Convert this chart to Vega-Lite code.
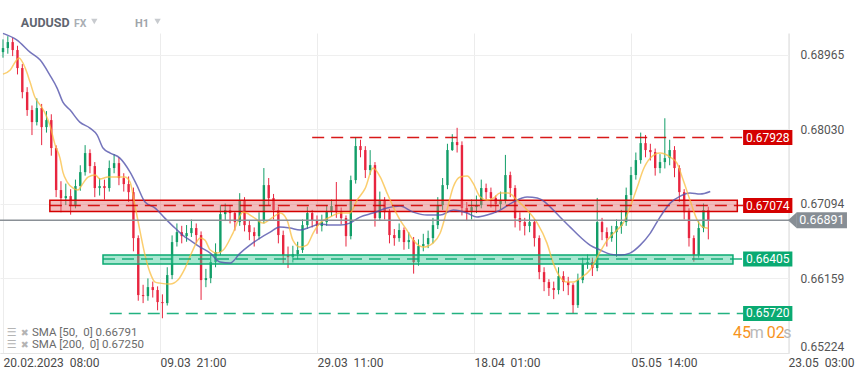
{
"$schema": "https://vega.github.io/schema/vega-lite/v6.json",
"width": 789, "height": 320,
"autosize": {"type": "none"},
"padding": {"left": 0, "top": 33, "right": 70, "bottom": 25},
"config": {"view": {"stroke": null}, "font": "Roboto", "text": {"font": "Roboto"}},
"datasets": {
"candles": [
{"t":0,"o":0.69,"h":0.6916,"l":0.6893,"c":0.69051},
{"t":10,"o":0.69051,"h":0.692,"l":0.6898,"c":0.69126},
{"t":20,"o":0.69126,"h":0.6918,"l":0.6895,"c":0.69026},
{"t":30,"o":0.69026,"h":0.6908,"l":0.6872,"c":0.688},
{"t":40,"o":0.688,"h":0.6885,"l":0.6842,"c":0.68498},
{"t":50,"o":0.68498,"h":0.6856,"l":0.682,"c":0.68273},
{"t":60,"o":0.68273,"h":0.6833,"l":0.67959,"c":0.68122},
{"t":70,"o":0.68122,"h":0.6842,"l":0.6808,"c":0.68298},
{"t":80,"o":0.68298,"h":0.6835,"l":0.67833,"c":0.68059},
{"t":90,"o":0.68059,"h":0.6826,"l":0.6799,"c":0.68147},
{"t":100,"o":0.68147,"h":0.6822,"l":0.677,"c":0.67796},
{"t":110,"o":0.67796,"h":0.6783,"l":0.6718,"c":0.67269},
{"t":120,"o":0.67269,"h":0.6738,"l":0.6699,"c":0.67168},
{"t":130,"o":0.67168,"h":0.6735,"l":0.6708,"c":0.67193},
{"t":140,"o":0.67193,"h":0.6728,"l":0.6696,"c":0.6708},
{"t":150,"o":0.6708,"h":0.674,"l":0.6704,"c":0.67319},
{"t":160,"o":0.67319,"h":0.6758,"l":0.6726,"c":0.67494},
{"t":170,"o":0.67494,"h":0.67833,"l":0.6745,"c":0.67733},
{"t":180,"o":0.67733,"h":0.6778,"l":0.6748,"c":0.6757},
{"t":190,"o":0.6757,"h":0.6762,"l":0.6718,"c":0.67294},
{"t":200,"o":0.67294,"h":0.6742,"l":0.672,"c":0.67319},
{"t":210,"o":0.67319,"h":0.674,"l":0.6715,"c":0.67294},
{"t":220,"o":0.67294,"h":0.6764,"l":0.6725,"c":0.67545},
{"t":230,"o":0.67545,"h":0.6772,"l":0.6748,"c":0.67607},
{"t":240,"o":0.67607,"h":0.6768,"l":0.6733,"c":0.67419},
{"t":250,"o":0.67419,"h":0.6748,"l":0.6725,"c":0.67344},
{"t":260,"o":0.67344,"h":0.6744,"l":0.6712,"c":0.67243},
{"t":270,"o":0.67243,"h":0.673,"l":0.665,"c":0.66666},
{"t":280,"o":0.66666,"h":0.667,"l":0.6588,"c":0.65951},
{"t":290,"o":0.65951,"h":0.6608,"l":0.6585,"c":0.65938},
{"t":300,"o":0.65938,"h":0.6616,"l":0.6588,"c":0.66051},
{"t":310,"o":0.66051,"h":0.6612,"l":0.6592,"c":0.66014},
{"t":320,"o":0.66014,"h":0.6606,"l":0.6576,"c":0.65863},
{"t":330,"o":0.65863,"h":0.6596,"l":0.6566,"c":0.6585},
{"t":340,"o":0.6585,"h":0.663,"l":0.6582,"c":0.66202},
{"t":350,"o":0.66202,"h":0.667,"l":0.6615,"c":0.66616},
{"t":360,"o":0.66616,"h":0.6685,"l":0.6656,"c":0.66741},
{"t":370,"o":0.66741,"h":0.6682,"l":0.666,"c":0.66691},
{"t":380,"o":0.66691,"h":0.6683,"l":0.6662,"c":0.66729},
{"t":390,"o":0.66729,"h":0.669,"l":0.6668,"c":0.66792},
{"t":400,"o":0.66792,"h":0.6685,"l":0.666,"c":0.66704},
{"t":410,"o":0.66704,"h":0.6675,"l":0.6589,"c":0.66139},
{"t":420,"o":0.66139,"h":0.6628,"l":0.6605,"c":0.66164},
{"t":430,"o":0.66164,"h":0.6645,"l":0.661,"c":0.66365},
{"t":440,"o":0.66365,"h":0.666,"l":0.663,"c":0.6649},
{"t":450,"o":0.6649,"h":0.6708,"l":0.6645,"c":0.66967},
{"t":460,"o":0.66967,"h":0.671,"l":0.6688,"c":0.67018},
{"t":470,"o":0.67018,"h":0.6708,"l":0.6685,"c":0.6698},
{"t":480,"o":0.6698,"h":0.67,"l":0.6676,"c":0.66867},
{"t":490,"o":0.66867,"h":0.6723,"l":0.6682,"c":0.67143},
{"t":500,"o":0.67143,"h":0.6718,"l":0.6675,"c":0.66829},
{"t":510,"o":0.66829,"h":0.6688,"l":0.6664,"c":0.66741},
{"t":520,"o":0.66741,"h":0.668,"l":0.6656,"c":0.66691},
{"t":530,"o":0.66691,"h":0.6699,"l":0.6665,"c":0.66892},
{"t":540,"o":0.66892,"h":0.67545,"l":0.6685,"c":0.67331},
{"t":550,"o":0.67331,"h":0.6742,"l":0.6708,"c":0.67168},
{"t":560,"o":0.67168,"h":0.6722,"l":0.669,"c":0.67018},
{"t":570,"o":0.67018,"h":0.6706,"l":0.666,"c":0.66704},
{"t":580,"o":0.66704,"h":0.6676,"l":0.6635,"c":0.66453},
{"t":590,"o":0.66453,"h":0.6656,"l":0.6629,"c":0.66428},
{"t":600,"o":0.66428,"h":0.6657,"l":0.6636,"c":0.66465},
{"t":610,"o":0.66465,"h":0.6662,"l":0.664,"c":0.66516},
{"t":620,"o":0.66516,"h":0.669,"l":0.6648,"c":0.66829},
{"t":630,"o":0.66829,"h":0.6706,"l":0.6678,"c":0.6698},
{"t":640,"o":0.6698,"h":0.6702,"l":0.668,"c":0.66892},
{"t":650,"o":0.66892,"h":0.6695,"l":0.6672,"c":0.66817},
{"t":660,"o":0.66817,"h":0.6696,"l":0.6675,"c":0.66867},
{"t":670,"o":0.66867,"h":0.6708,"l":0.6682,"c":0.66992},
{"t":680,"o":0.66992,"h":0.6715,"l":0.6694,"c":0.67068},
{"t":690,"o":0.67068,"h":0.6737,"l":0.6692,"c":0.66992},
{"t":700,"o":0.66992,"h":0.6705,"l":0.6684,"c":0.66917},
{"t":710,"o":0.66917,"h":0.6695,"l":0.6656,"c":0.66691},
{"t":720,"o":0.66691,"h":0.6745,"l":0.6665,"c":0.67394},
{"t":730,"o":0.67394,"h":0.67928,"l":0.6735,"c":0.67821},
{"t":740,"o":0.67821,"h":0.679,"l":0.6768,"c":0.67771},
{"t":750,"o":0.67771,"h":0.6782,"l":0.6742,"c":0.6752},
{"t":760,"o":0.6752,"h":0.6777,"l":0.6746,"c":0.67582},
{"t":770,"o":0.67582,"h":0.6762,"l":0.6681,"c":0.66917},
{"t":780,"o":0.66917,"h":0.6725,"l":0.6688,"c":0.67143},
{"t":790,"o":0.67143,"h":0.6718,"l":0.669,"c":0.66992},
{"t":800,"o":0.66992,"h":0.6703,"l":0.666,"c":0.66704},
{"t":810,"o":0.66704,"h":0.6678,"l":0.6657,"c":0.66666},
{"t":820,"o":0.66666,"h":0.6685,"l":0.6662,"c":0.66767},
{"t":830,"o":0.66767,"h":0.668,"l":0.6652,"c":0.66616},
{"t":840,"o":0.66616,"h":0.6674,"l":0.6653,"c":0.66641},
{"t":850,"o":0.66641,"h":0.6668,"l":0.6622,"c":0.66365},
{"t":860,"o":0.66365,"h":0.6665,"l":0.6632,"c":0.66566},
{"t":870,"o":0.66566,"h":0.6672,"l":0.665,"c":0.66591},
{"t":880,"o":0.66591,"h":0.6676,"l":0.6654,"c":0.66666},
{"t":890,"o":0.66666,"h":0.6692,"l":0.666,"c":0.66829},
{"t":900,"o":0.66829,"h":0.6718,"l":0.6678,"c":0.6708},
{"t":910,"o":0.6708,"h":0.6742,"l":0.6702,"c":0.67331},
{"t":920,"o":0.67331,"h":0.6785,"l":0.6728,"c":0.67771},
{"t":930,"o":0.67771,"h":0.6797,"l":0.6776,"c":0.67871},
{"t":940,"o":0.67871,"h":0.6805,"l":0.6774,"c":0.67833},
{"t":950,"o":0.67833,"h":0.6788,"l":0.6695,"c":0.67043},
{"t":960,"o":0.67043,"h":0.6712,"l":0.6688,"c":0.66992},
{"t":970,"o":0.66992,"h":0.6715,"l":0.669,"c":0.67055},
{"t":980,"o":0.67055,"h":0.672,"l":0.6698,"c":0.6708},
{"t":990,"o":0.6708,"h":0.674,"l":0.6704,"c":0.67294},
{"t":1000,"o":0.67294,"h":0.6735,"l":0.6715,"c":0.67243},
{"t":1010,"o":0.67243,"h":0.673,"l":0.6705,"c":0.67168},
{"t":1020,"o":0.67168,"h":0.672,"l":0.6698,"c":0.67093},
{"t":1030,"o":0.67093,"h":0.6725,"l":0.6703,"c":0.67143},
{"t":1040,"o":0.67143,"h":0.6771,"l":0.671,"c":0.67457},
{"t":1050,"o":0.67457,"h":0.675,"l":0.6718,"c":0.67294},
{"t":1060,"o":0.67294,"h":0.6733,"l":0.668,"c":0.66917},
{"t":1070,"o":0.66917,"h":0.6699,"l":0.6676,"c":0.66867},
{"t":1080,"o":0.66867,"h":0.6692,"l":0.667,"c":0.66817},
{"t":1090,"o":0.66817,"h":0.6698,"l":0.6674,"c":0.66867},
{"t":1100,"o":0.66867,"h":0.669,"l":0.6656,"c":0.66666},
{"t":1110,"o":0.66666,"h":0.667,"l":0.6615,"c":0.66239},
{"t":1120,"o":0.66239,"h":0.663,"l":0.66,"c":0.66114},
{"t":1130,"o":0.66114,"h":0.6615,"l":0.6594,"c":0.66039},
{"t":1140,"o":0.66039,"h":0.6612,"l":0.659,"c":0.66014},
{"t":1150,"o":0.66014,"h":0.663,"l":0.6596,"c":0.66189},
{"t":1160,"o":0.66189,"h":0.6625,"l":0.66,"c":0.66114},
{"t":1170,"o":0.66114,"h":0.6618,"l":0.6595,"c":0.66076},
{"t":1180,"o":0.66076,"h":0.661,"l":0.6572,"c":0.65825},
{"t":1190,"o":0.65825,"h":0.6622,"l":0.6579,"c":0.66139},
{"t":1200,"o":0.66139,"h":0.6642,"l":0.661,"c":0.6634},
{"t":1210,"o":0.6634,"h":0.6646,"l":0.6628,"c":0.66365},
{"t":1220,"o":0.66365,"h":0.6642,"l":0.6619,"c":0.6629},
{"t":1230,"o":0.6629,"h":0.6717,"l":0.6625,"c":0.66867},
{"t":1240,"o":0.66867,"h":0.6692,"l":0.6664,"c":0.66741},
{"t":1250,"o":0.66741,"h":0.668,"l":0.6656,"c":0.66666},
{"t":1260,"o":0.66666,"h":0.6682,"l":0.6662,"c":0.66741},
{"t":1270,"o":0.66741,"h":0.669,"l":0.6643,"c":0.66817},
{"t":1280,"o":0.66817,"h":0.6702,"l":0.6672,"c":0.66867},
{"t":1290,"o":0.66867,"h":0.673,"l":0.6682,"c":0.67206},
{"t":1300,"o":0.67206,"h":0.6756,"l":0.6715,"c":0.67457},
{"t":1310,"o":0.67457,"h":0.6774,"l":0.674,"c":0.67645},
{"t":1320,"o":0.67645,"h":0.6799,"l":0.676,"c":0.67858},
{"t":1330,"o":0.67858,"h":0.6796,"l":0.6768,"c":0.67771},
{"t":1340,"o":0.67771,"h":0.6785,"l":0.6764,"c":0.67745},
{"t":1350,"o":0.67745,"h":0.6779,"l":0.6745,"c":0.67545},
{"t":1360,"o":0.67545,"h":0.6772,"l":0.6748,"c":0.6762},
{"t":1370,"o":0.6762,"h":0.6817,"l":0.6754,"c":0.6767},
{"t":1380,"o":0.6767,"h":0.679,"l":0.6758,"c":0.67771},
{"t":1390,"o":0.67771,"h":0.6782,"l":0.6743,"c":0.67545},
{"t":1400,"o":0.67545,"h":0.6758,"l":0.6712,"c":0.67243},
{"t":1410,"o":0.67243,"h":0.6728,"l":0.669,"c":0.66992},
{"t":1420,"o":0.66992,"h":0.6704,"l":0.6656,"c":0.66666},
{"t":1430,"o":0.66666,"h":0.667,"l":0.6637,"c":0.66453},
{"t":1440,"o":0.66453,"h":0.6688,"l":0.6642,"c":0.66792},
{"t":1450,"o":0.66792,"h":0.671,"l":0.6674,"c":0.67018},
{"t":1460,"o":0.67018,"h":0.6706,"l":0.6665,"c":0.66891}
],
"sma50": [
{"t":0,"v":0.68724},{"t":15,"v":0.68775},{"t":25,"v":0.68875},{"t":33,"v":0.68925},{"t":46,"v":0.688},{"t":56,"v":0.68624},{"t":66,"v":0.68436},{"t":77,"v":0.68335},{"t":87,"v":0.68235},{"t":97,"v":0.68084},{"t":108,"v":0.67833},{"t":118,"v":0.6767},{"t":124,"v":0.67494},{"t":133,"v":0.67369},{"t":145,"v":0.67294},{"t":155,"v":0.67269},{"t":166,"v":0.67356},{"t":176,"v":0.67432},{"t":191,"v":0.67457},{"t":201,"v":0.67407},{"t":217,"v":0.67432},{"t":252,"v":0.67432},{"t":263,"v":0.67369},{"t":273,"v":0.6708},{"t":284,"v":0.66741},{"t":294,"v":0.66453},{"t":304,"v":0.66239},{"t":315,"v":0.66114},{"t":325,"v":0.66101},{"t":346,"v":0.66089},{"t":362,"v":0.66139},{"t":377,"v":0.6629},{"t":393,"v":0.66516},{"t":408,"v":0.66666},{"t":418,"v":0.66641},{"t":429,"v":0.66516},{"t":443,"v":0.66478},{"t":456,"v":0.66516},{"t":476,"v":0.66729},{"t":497,"v":0.66992},{"t":518,"v":0.6693},{"t":538,"v":0.66854},{"t":559,"v":0.6693},{"t":574,"v":0.6698},{"t":588,"v":0.66892},{"t":600,"v":0.66641},{"t":615,"v":0.66553},{"t":629,"v":0.66578},{"t":642,"v":0.66729},{"t":656,"v":0.66854},{"t":677,"v":0.6693},{"t":698,"v":0.6698},{"t":718,"v":0.6698},{"t":733,"v":0.67143},{"t":750,"v":0.67294},{"t":766,"v":0.67545},{"t":781,"v":0.67432},{"t":795,"v":0.67231},{"t":808,"v":0.67055},{"t":822,"v":0.66892},{"t":836,"v":0.66767},{"t":849,"v":0.66641},{"t":870,"v":0.66553},{"t":890,"v":0.66603},{"t":905,"v":0.66729},{"t":919,"v":0.67018},{"t":932,"v":0.67306},{"t":946,"v":0.67432},{"t":961,"v":0.67444},{"t":973,"v":0.67356},{"t":988,"v":0.67181},{"t":1002,"v":0.67143},{"t":1015,"v":0.67168},{"t":1029,"v":0.67231},{"t":1046,"v":0.67231},{"t":1064,"v":0.67143},{"t":1085,"v":0.67018},{"t":1106,"v":0.66854},{"t":1126,"v":0.66603},{"t":1139,"v":0.66352},{"t":1153,"v":0.66177},{"t":1168,"v":0.66114},{"t":1180,"v":0.66114},{"t":1195,"v":0.66164},{"t":1215,"v":0.66265},{"t":1230,"v":0.66428},{"t":1251,"v":0.66641},{"t":1271,"v":0.66767},{"t":1284,"v":0.66854},{"t":1298,"v":0.67055},{"t":1313,"v":0.67306},{"t":1325,"v":0.6752},{"t":1340,"v":0.6767},{"t":1360,"v":0.67733},{"t":1381,"v":0.67683},{"t":1395,"v":0.67607},{"t":1408,"v":0.67394},{"t":1422,"v":0.67143},{"t":1437,"v":0.66892},{"t":1449,"v":0.66804},{"t":1460,"v":0.66791}
],
"sma200": [
{"t":0,"v":0.69235},{"t":29,"v":0.69151},{"t":56,"v":0.69},{"t":77,"v":0.689},{"t":97,"v":0.68712},{"t":112,"v":0.68549},{"t":124,"v":0.68373},{"t":139,"v":0.68273},{"t":159,"v":0.68122},{"t":180,"v":0.68047},{"t":195,"v":0.67959},{"t":207,"v":0.67796},{"t":222,"v":0.67733},{"t":242,"v":0.6767},{"t":263,"v":0.67494},{"t":277,"v":0.67331},{"t":294,"v":0.67118},{"t":315,"v":0.67043},{"t":335,"v":0.66917},{"t":356,"v":0.66792},{"t":377,"v":0.66679},{"t":387,"v":0.66641},{"t":408,"v":0.66553},{"t":429,"v":0.66478},{"t":449,"v":0.66365},{"t":470,"v":0.66352},{"t":491,"v":0.66478},{"t":511,"v":0.66578},{"t":532,"v":0.66666},{"t":553,"v":0.66741},{"t":573,"v":0.66804},{"t":594,"v":0.66792},{"t":615,"v":0.66767},{"t":636,"v":0.66804},{"t":656,"v":0.66842},{"t":677,"v":0.66829},{"t":698,"v":0.66829},{"t":718,"v":0.66854},{"t":739,"v":0.6693},{"t":766,"v":0.6698},{"t":795,"v":0.67043},{"t":822,"v":0.67068},{"t":849,"v":0.66992},{"t":878,"v":0.66955},{"t":905,"v":0.66955},{"t":932,"v":0.67018},{"t":961,"v":0.6698},{"t":981,"v":0.6693},{"t":1002,"v":0.66955},{"t":1029,"v":0.67018},{"t":1056,"v":0.67118},{"t":1085,"v":0.67181},{"t":1106,"v":0.67168},{"t":1122,"v":0.67118},{"t":1133,"v":0.67055},{"t":1153,"v":0.6693},{"t":1174,"v":0.66804},{"t":1195,"v":0.66679},{"t":1215,"v":0.66578},{"t":1236,"v":0.66516},{"t":1257,"v":0.66465},{"t":1277,"v":0.66453},{"t":1298,"v":0.66478},{"t":1319,"v":0.66578},{"t":1340,"v":0.66729},{"t":1360,"v":0.6693},{"t":1381,"v":0.67105},{"t":1402,"v":0.67193},{"t":1422,"v":0.67231},{"t":1443,"v":0.67218},{"t":1464,"v":0.6725}
],
"zones": [
{"lo":0.67,"hi":0.6714,"from":97,"to":1520,"kind":"res"},
{"lo":0.6634,"hi":0.66453,"from":207,"to":1511,"kind":"sup"}
],
"levels": [
{"lvl":0.67928,"from":640,"to":1532,"kind":"res"},
{"lvl":0.67074,"from":97,"to":1532,"kind":"res"},
{"lvl":0.66405,"from":207,"to":1532,"kind":"sup"},
{"lvl":0.6572,"from":221,"to":1532,"kind":"sup"}
],
"last": [{"p":0.66891}]
},
"layer": [
{
"data": {"name": "candles"},
"mark": {"type": "rule", "strokeWidth": 1},
"encoding": {
"x": {"field": "t", "type": "quantitative",
"scale": {"domain": [-6.2, 1627], "nice": false, "zero": false},
"axis": {"values": [0, 325, 650, 975, 1300, 1625],
"labelExpr": "datum.value==0?'20.02.2023 \u00a008:00':datum.value==325?'09.03 \u00a021:00':datum.value==650?'29.03 \u00a011:00':datum.value==975?'18.04 \u00a001:00':datum.value==1300?'05.05 \u00a014:00':'23.05 \u00a003:00'",
"labelAlign": "left", "labelFlush": false, "labelOverlap": false, "labelBound": false,
"ticks": false, "grid": true, "gridColor": "#ececec", "domainColor": "#e4e4e4",
"labelColor": "#4a4a4a", "labelFontSize": 12, "labelPadding": 4, "labelFont": "Roboto", "title": null}},
"y": {"field": "l", "type": "quantitative",
"scale": {"domain": [0.65224, 0.6924], "nice": false, "zero": false},
"axis": {"orient": "right", "values": [0.65224, 0.65691, 0.66159, 0.66627, 0.67094, 0.67562, 0.6803, 0.68498, 0.68965],
"format": ".5f", "ticks": false, "grid": true, "gridColor": "#efefef", "domain": true, "domainColor": "#e8e8e8",
"labelColor": "#555555", "labelFontSize": 12, "labelPadding": 11, "labelFlush": true, "labelFont": "Roboto", "title": null}},
"y2": {"field": "h"},
"color": {"condition": {"test": "datum.c >= datum.o", "value": "#129e68"}, "value": "#e8253f"}
}
},
{
"data": {"name": "candles"},
"mark": {"type": "rule", "strokeWidth": 2.4},
"encoding": {
"x": {"field": "t", "type": "quantitative"},
"y": {"field": "o", "type": "quantitative"},
"y2": {"field": "c"},
"color": {"condition": {"test": "datum.c >= datum.o", "value": "#129e68"}, "value": "#e8253f"}
}
},
{
"data": {"name": "zones"},
"mark": {"type": "rect", "fillOpacity": 0.45, "strokeWidth": 1.5},
"encoding": {
"x": {"field": "from", "type": "quantitative"},
"x2": {"field": "to"},
"y": {"field": "lo", "type": "quantitative"},
"y2": {"field": "hi"},
"fill": {"field": "kind", "type": "nominal", "scale": {"domain": ["res", "sup"], "range": ["#e46a6a", "#3ec99a"]}, "legend": null},
"stroke": {"field": "kind", "type": "nominal", "scale": {"domain": ["res", "sup"], "range": ["#d40000", "#0aaa72"]}, "legend": null}
}
},
{
"data": {"name": "sma200"},
"mark": {"type": "line", "color": "#5252ab", "strokeWidth": 1.5, "opacity": 0.8, "interpolate": "monotone"},
"encoding": {"x": {"field": "t", "type": "quantitative"}, "y": {"field": "v", "type": "quantitative"}}
},
{
"data": {"name": "sma50"},
"mark": {"type": "line", "color": "#f9bd3f", "strokeWidth": 1.5, "opacity": 0.75, "interpolate": "monotone"},
"encoding": {"x": {"field": "t", "type": "quantitative"}, "y": {"field": "v", "type": "quantitative"}}
},
{
"data": {"name": "levels"},
"mark": {"type": "rule", "strokeWidth": 1.5, "strokeDash": [12, 7], "opacity": 0.9},
"encoding": {
"x": {"field": "from", "type": "quantitative"},
"x2": {"field": "to"},
"y": {"field": "lvl", "type": "quantitative"},
"stroke": {"field": "kind", "type": "nominal", "legend": null}
}
},
{
"data": {"name": "last"},
"mark": {"type": "rule", "strokeWidth": 1.5, "color": "#8a9096"},
"encoding": {"x": {"datum": -6.2}, "x2": {"datum": 1627}, "y": {"field": "p", "type": "quantitative"}}
},
{
"data": {"name": "levels"},
"mark": {"type": "rule", "strokeWidth": 15},
"encoding": {
"x": {"datum": 1532}, "x2": {"datum": 1634},
"y": {"field": "lvl", "type": "quantitative"},
"stroke": {"field": "kind", "type": "nominal", "legend": null}
}
},
{
"data": {"name": "levels"},
"mark": {"type": "text", "color": "white", "fontSize": 12, "align": "center", "baseline": "middle", "font": "Roboto"},
"encoding": {
"x": {"datum": 1583},
"y": {"field": "lvl", "type": "quantitative"},
"text": {"field": "lvl", "type": "quantitative", "format": ".5f"}
}
},
{
"data": {"name": "last"},
"mark": {"type": "rule", "strokeWidth": 16, "color": "#878e95"},
"encoding": {"x": {"datum": 1643}, "x2": {"datum": 1747}, "y": {"field": "p", "type": "quantitative"}}
},
{
"data": {"name": "last"},
"mark": {"type": "point", "shape": "M -0.56 0 L 0.56 -1 L 0.56 1 Z", "filled": true, "size": 256, "color": "#878e95", "opacity": 1},
"encoding": {"x": {"datum": 1634}, "y": {"field": "p", "type": "quantitative"}}
},
{
"data": {"name": "last"},
"mark": {"type": "text", "color": "white", "fontSize": 12.5, "align": "center", "baseline": "middle", "font": "Roboto"},
"encoding": {"x": {"datum": 1695}, "y": {"field": "p", "type": "quantitative"}, "text": {"field": "p", "type": "quantitative", "format": ".5f"}}
},
{
"data": {"values": [{}]},
"mark": {"type": "text", "text": "AUDUSD", "fontWeight": "bold", "fontSize": 12.5, "color": "#5f6670", "align": "left", "baseline": "alphabetic", "font": "Roboto"},
"encoding": {"x": {"datum": 37}, "y": {"datum": 0.69314}}
},
{
"data": {"values": [{}]},
"mark": {"type": "text", "text": "FX", "fontWeight": "bold", "fontSize": 10.5, "color": "#a9aeb4", "align": "left", "baseline": "alphabetic", "font": "Roboto"},
"encoding": {"x": {"datum": 147}, "y": {"datum": 0.69314}}
},
{
"data": {"values": [{}]},
"mark": {"type": "text", "text": "H1", "fontWeight": "bold", "fontSize": 11, "color": "#a0a5aa", "align": "left", "baseline": "alphabetic", "font": "Roboto"},
"encoding": {"x": {"datum": 273}, "y": {"datum": 0.69314}}
},
{
"data": {"values": [{"t": 189}, {"t": 320}]},
"mark": {"type": "point", "shape": "triangle-down", "filled": true, "size": 40, "color": "#c8cbcf", "opacity": 1},
"encoding": {"x": {"field": "t", "type": "quantitative"}, "y": {"datum": 0.69384}}
},
{
"data": {"values": [{}]},
"mark": {"type": "text", "text": ["☰", "☰"], "fontSize": 11, "lineHeight": 12.5, "color": "#b4b4b4", "align": "left", "baseline": "alphabetic", "font": "DejaVu Sans"},
"encoding": {"x": {"datum": 8}, "y": {"datum": 0.65442}}
},
{
"data": {"values": [{}]},
"mark": {"type": "text", "text": ["✖", "✖"], "fontSize": 9.5, "lineHeight": 12.5, "color": "#b4b4b4", "align": "left", "baseline": "alphabetic", "font": "DejaVu Sans"},
"encoding": {"x": {"datum": 37}, "y": {"datum": 0.65442}}
},
{
"data": {"values": [{}]},
"mark": {"type": "text", "text": ["SMA [50, \u00a00] 0.66791", "SMA [200, \u00a00] 0.67250"], "fontSize": 11.5, "lineHeight": 12.5, "color": "#6b6b6b", "align": "left", "baseline": "alphabetic", "font": "Roboto"},
"encoding": {"x": {"datum": 60}, "y": {"datum": 0.65442}}
},
{
"data": {"values": [{}]},
"mark": {"type": "text", "text": "45", "fontSize": 16, "color": "#f7941d", "align": "left", "baseline": "alphabetic", "font": "Roboto"},
"encoding": {"x": {"datum": 1511}, "y": {"datum": 0.65411}}
},
{
"data": {"values": [{}]},
"mark": {"type": "text", "text": "m", "fontSize": 16, "color": "#b8b8b8", "align": "left", "baseline": "alphabetic", "font": "Roboto"},
"encoding": {"x": {"datum": 1546}, "y": {"datum": 0.65411}}
},
{
"data": {"values": [{}]},
"mark": {"type": "text", "text": "02", "fontSize": 16, "color": "#f7941d", "align": "left", "baseline": "alphabetic", "font": "Roboto"},
"encoding": {"x": {"datum": 1581}, "y": {"datum": 0.65411}}
},
{
"data": {"values": [{}]},
"mark": {"type": "text", "text": "s", "fontSize": 16, "color": "#b8b8b8", "align": "left", "baseline": "alphabetic", "font": "Roboto"},
"encoding": {"x": {"datum": 1615}, "y": {"datum": 0.65411}}
}
]
}
